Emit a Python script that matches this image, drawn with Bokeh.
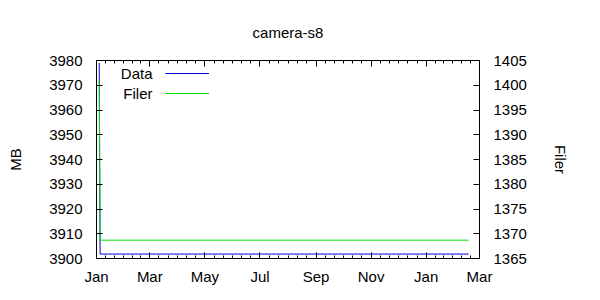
import pandas as pd
from bokeh.plotting import figure
from bokeh.models import (Range1d, LinearAxis, FixedTicker, Legend, LegendItem,
                          Label, ColumnDataSource)
from bokeh.embed import file_html
from bokeh.resources import INLINE

# ---------------- data ----------------
chart_title = "camera-s8"
start_date = "2018-01-01"
end_date = "2019-03-01"

data_dates = ["2018-01-04", "2018-01-05", "2019-02-17"]
data_mb = [3979, 3901.8, 3901.8]

filer_dates = ["2018-01-04", "2018-01-05", "2019-02-17"]
filer_vals = [1401, 1368.7, 1368.7]

x_tick_dates = ["2018-01-01", "2018-03-01", "2018-05-01", "2018-07-01",
                "2018-09-01", "2018-11-01", "2019-01-01", "2019-03-01"]
x_tick_labels = ["Jan", "Mar", "May", "Jul", "Sep", "Nov", "Jan", "Mar"]

y_ticks = [3900, 3910, 3920, 3930, 3940, 3950, 3960, 3970, 3980]
y2_ticks = [1365, 1370, 1375, 1380, 1385, 1390, 1395, 1400, 1405]

series_names = ["Data", "Filer"]
y_label = "MB"
y2_label = "Filer"

# ---------------- helpers ----------------
t0 = pd.Timestamp(start_date)
def day(d):
    return int((pd.Timestamp(d) - t0).days)

FONT = "Liberation Sans"
FS = "15px"
BLUE = "#0000dd"
GREEN = "#00e000"

x_ticks = [day(d) for d in x_tick_dates]
minor = []
for a, b in zip(x_ticks[:-1], x_ticks[1:]):
    for k in range(1, 6):
        minor.append(a + (b - a) * k / 6.0)

p = figure(width=600, height=300, output_backend="svg", toolbar_location=None,
           x_range=Range1d(0, day(end_date)),
           y_range=Range1d(y_ticks[0], y_ticks[-1]),
           min_border_left=96, min_border_right=121,
           min_border_top=60, min_border_bottom=42)
p.extra_y_ranges = {"filer": Range1d(y2_ticks[0], y2_ticks[-1])}

p.xgrid.visible = False
p.ygrid.visible = False
p.outline_line_color = "black"
p.outline_line_width = 1
p.background_fill_color = "white"
p.border_fill_color = "white"

# title
p.title.text = chart_title
p.title.align = "center"
p.title.text_font = FONT
p.title.text_font_size = FS
p.title.text_font_style = "normal"
p.title.text_color = "black"
p.title.standoff = 39


def style_axis(ax):
    ax.major_tick_in = 6
    ax.major_tick_out = 0
    ax.minor_tick_in = 3
    ax.minor_tick_out = 0
    ax.axis_line_color = "black"
    ax.major_tick_line_color = "black"
    ax.minor_tick_line_color = "black"
    ax.major_label_text_font = FONT
    ax.major_label_text_font_size = FS
    ax.major_label_text_color = "black"
    ax.axis_label_text_font = FONT
    ax.axis_label_text_font_size = FS
    ax.axis_label_text_font_style = "normal"
    ax.axis_label_text_color = "black"

# bottom axis
xa = p.xaxis[0]
xa.ticker = FixedTicker(ticks=x_ticks, minor_ticks=minor)
xa.major_label_overrides = {t: lab for t, lab in zip(x_ticks, x_tick_labels)}
style_axis(xa)
xa.major_label_standoff = 9

# top mirror ticks
top = LinearAxis(ticker=FixedTicker(ticks=x_ticks, minor_ticks=minor))
style_axis(top)
top.major_label_overrides = {t: "" for t in x_ticks}
top.major_label_text_font_size = "0px"
top.major_label_standoff = 0
p.add_layout(top, "above")

# left axis
ya = p.yaxis[0]
ya.ticker = FixedTicker(ticks=y_ticks, minor_ticks=[])
ya.axis_label = y_label
style_axis(ya)
ya.major_label_standoff = 14
ya.axis_label_standoff = 22

# right axis
ra = LinearAxis(y_range_name="filer",
                ticker=FixedTicker(ticks=y2_ticks, minor_ticks=[]),
                axis_label=y2_label)
style_axis(ra)
ra.major_label_standoff = 14
ra.axis_label_standoff = 22
p.add_layout(ra, "right")

# series
src1 = ColumnDataSource(dict(x=[day(d) for d in data_dates], y=data_mb))
src2 = ColumnDataSource(dict(x=[day(d) for d in filer_dates], y=filer_vals))
r1 = p.line("x", "y", source=src1, line_color=BLUE, line_width=1)
r2 = p.line("x", "y", source=src2, line_color=GREEN, line_width=1,
            y_range_name="filer")

# legend: line samples (gnuplot style: text left, sample right)
leg = Legend(items=[LegendItem(label="", renderers=[r1]),
                    LegendItem(label="", renderers=[r2])],
             location=(69, 155), glyph_width=44, glyph_height=20,
             label_height=20, label_width=0, label_standoff=0,
             spacing=0, padding=0, margin=0,
             border_line_color=None, background_fill_alpha=0,
             label_text_font_size="1px")
p.add_layout(leg, "center")

for i, name in enumerate(series_names):
    p.add_layout(Label(x=56, y=185 - 20 * i, x_units="screen", y_units="screen",
                       text=name, text_align="right", text_baseline="middle",
                       text_font=FONT, text_font_size=FS, text_color="black"))

open("out.html", "w").write(file_html(p, INLINE))
